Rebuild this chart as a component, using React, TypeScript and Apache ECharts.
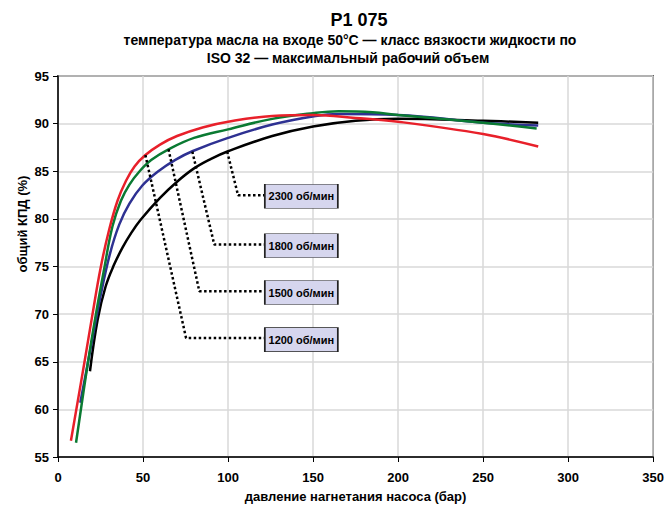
import React, { useEffect, useRef } from "react";
import * as echarts from "echarts";

const FONT = '"Liberation Sans", Arial, sans-serif';

const titleMain = "P1 075";
const subtitle1 = "температура масла на входе 50°C — класс вязкости жидкости по";
const subtitle2 = "ISO 32 — максимальный рабочий объем";
const xAxisName = "давление нагнетания насоса (бар)";
const yAxisName = "общий КПД (%)";

// curves: [pressure (bar), efficiency (%)]
const red1200: number[][] = [
  [7.6, 56.7], [15.5, 64.9], [20.3, 70.0], [25, 74.8], [30, 78.8],
  [35, 81.9], [40, 84.0], [45, 85.5], [51.4, 86.7], [60, 87.8],
  [70, 88.7], [85, 89.6], [100, 90.2], [126, 90.8], [150, 90.9],
  [175, 90.6], [200, 90.2], [250, 88.9], [282.4, 87.6],
];
const green1500: number[][] = [
  [10.6, 56.5], [17.4, 64.7], [22.3, 70.0], [27, 74.6], [32, 79.2],
  [37, 81.9], [42, 83.6], [48, 85.0], [55, 86.2], [65, 87.3],
  [80, 88.5], [100, 89.4], [126, 90.5], [150, 91.1], [165, 91.3],
  [185, 91.2], [200, 90.9], [250, 90.1], [281.5, 89.5],
];
const blue1800: number[][] = [
  [13.1, 60.7], [19.4, 66.6], [25, 71.9], [30.5, 76.3], [36, 79.4],
  [42, 81.6], [49.6, 83.5], [59, 85.0], [69, 86.2], [79, 87.1],
  [100, 88.5], [126, 89.9], [151.5, 90.8], [165, 91.0], [200, 90.9],
  [250, 90.1], [282.4, 89.8],
];
const black2300: number[][] = [
  [18.8, 64.0], [23.3, 69.4], [28, 72.9], [33, 75.2], [38, 77.0],
  [43, 78.5], [48.6, 79.9], [60, 82.2], [70, 83.9], [80, 85.3],
  [90, 86.3], [100, 87.1], [126, 88.7], [150, 89.7], [175, 90.3],
  [200, 90.5], [250, 90.3], [282.4, 90.1],
];

// leader lines: start on curve -> corner -> box edge
const leader2300: number[][] = [[99.5, 87.06], [105.9, 82.47], [121.8, 82.47]];
const leader1800: number[][] = [[79, 87.06], [91.9, 77.3], [121.8, 77.3]];
const leader1500: number[][] = [[65, 87.3], [83.1, 72.4], [121.8, 72.4]];
const leader1200: number[][] = [[51.4, 86.7], [75.3, 67.5], [121.8, 67.5]];

const boxLabels = ["2300 об/мин", "1800 об/мин", "1500 об/мин", "1200 об/мин"];
const boxX = [143.1, 143.1, 143.1, 143.1];
const boxY = [82.37, 77.18, 72.27, 67.32];

const xTicks = { min: 0, max: 350, interval: 50 };
const yTicks = { min: 55, max: 95, interval: 5 };

export default function App() {
  const ref = useRef<HTMLDivElement>(null);
  useEffect(() => {
    if (!ref.current) return;
    const chart = echarts.init(ref.current, undefined, { renderer: "svg" });
    const curve = (name: string, data: number[][], color: string) => ({
      name,
      type: "line",
      data,
      smooth: 0.4,
      showSymbol: false,
      symbol: "none",
      lineStyle: { color, width: 2.5 },
      z: 3,
    });
    const leader = (data: number[][]) => ({
      type: "line",
      data,
      showSymbol: false,
      symbol: "none",
      lineStyle: { color: "#000", width: 2.5, type: [2.5, 2.5] },
      z: 4,
      silent: true,
    });
    chart.setOption({
      animation: false,
      backgroundColor: "#fff",
      textStyle: { fontFamily: FONT },
      grid: { left: 58, top: 76, right: 11, bottom: 52, show: true, borderColor: "#000", borderWidth: 1.5 },
      graphic: [
        { type: "text", x: 359, y: 20, style: { text: titleMain, align: "center", verticalAlign: "middle", font: `bold 18px ${FONT}`, fill: "#000" } },
        { type: "text", x: 350, y: 40, style: { text: subtitle1, align: "center", verticalAlign: "middle", font: `bold 14px ${FONT}`, fill: "#000" } },
        { type: "text", x: 348, y: 58, style: { text: subtitle2, align: "center", verticalAlign: "middle", font: `bold 14px ${FONT}`, fill: "#000" } },
        { type: "text", x: 22, y: 224, rotation: Math.PI / 2, style: { text: yAxisName, align: "center", verticalAlign: "middle", font: `bold 13px ${FONT}`, fill: "#000" } },
      ],
      xAxis: {
        type: "value",
        min: xTicks.min,
        max: xTicks.max,
        interval: xTicks.interval,
        name: xAxisName,
        nameLocation: "middle",
        nameGap: 33,
        nameTextStyle: { fontWeight: "bold", fontSize: 13, color: "#000", fontFamily: FONT },
        axisLine: { show: true, onZero: false, lineStyle: { color: "#000", width: 1.5 } },
        axisTick: { show: true, length: 5, lineStyle: { color: "#000" } },
        axisLabel: { fontWeight: "bold", fontSize: 13, color: "#000", margin: 14, fontFamily: FONT },
        splitLine: { show: true, lineStyle: { color: "#d9d9d9", width: 1.5 } },
      },
      yAxis: {
        type: "value",
        min: yTicks.min,
        max: yTicks.max,
        interval: yTicks.interval,
        axisLine: { show: true, onZero: false, lineStyle: { color: "#000", width: 1.5 } },
        axisTick: { show: true, length: 5, lineStyle: { color: "#000" } },
        axisLabel: { fontWeight: "bold", fontSize: 13, color: "#000", margin: 9, fontFamily: FONT },
        splitLine: { show: true, lineStyle: { color: "#d9d9d9", width: 1.5 } },
      },
      series: [
        curve("2300", black2300, "#000000"),
        curve("1800", blue1800, "#2e3192"),
        curve("1500", green1500, "#0a7a32"),
        curve("1200", red1200, "#e8202a"),
        leader(leader2300),
        leader(leader1800),
        leader(leader1500),
        leader(leader1200),
        {
          type: "scatter",
          data: boxLabels.map((n, i) => ({ name: n, value: [boxX[i], boxY[i]] })),
          symbol: "rect",
          symbolSize: [73, 24],
          itemStyle: { color: "#d6d6ee", borderColor: "#222", borderWidth: 1, opacity: 1 },
          label: {
            show: true,
            position: "inside",
            formatter: (p: any) => p.name,
            fontWeight: "bold",
            fontSize: 11,
            color: "#000",
            fontFamily: FONT,
          },
          z: 5,
          silent: true,
        },
      ],
    });
    return () => chart.dispose();
  }, []);
  return <div ref={ref} style={{ width: 667, height: 509, position: "absolute", left: 0, top: 0 }} />;
}
